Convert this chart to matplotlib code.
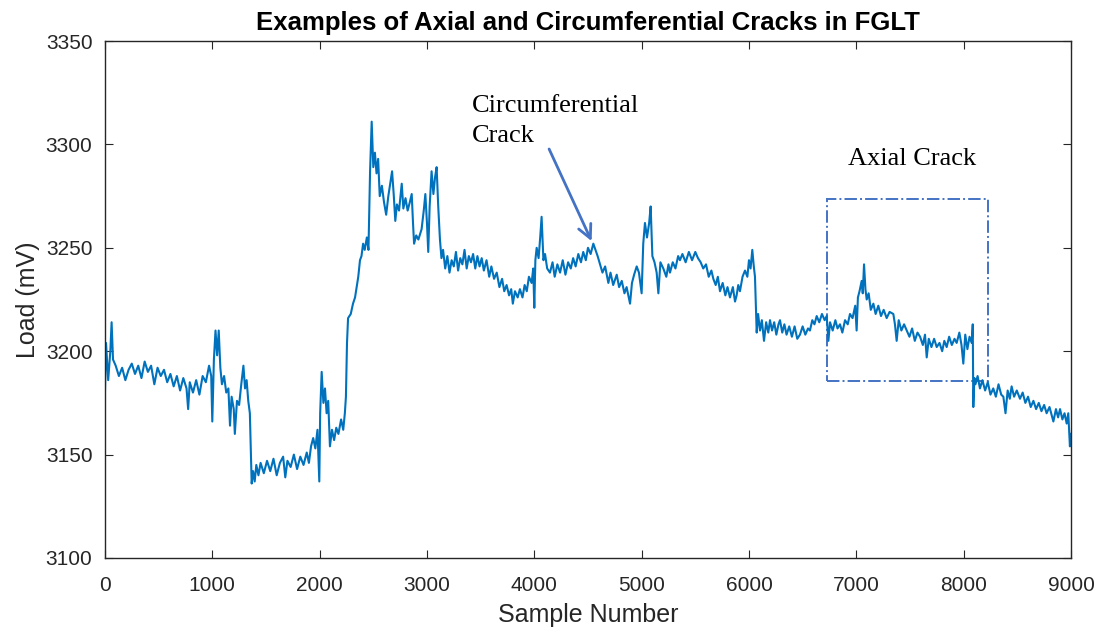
import matplotlib.pyplot as plt
from matplotlib.patches import Rectangle

# load trace, (sample, mV) pairs
samples = [
    0, 10, 30, 50, 62, 75, 100, 130, 160, 190, 220, 250, 280, 310, 340, 370, 400, 430, 460, 490,
    520, 550, 580, 610, 640, 670, 700, 730, 760, 775, 790, 820, 850, 880, 910, 940, 970, 990, 1000, 1015,
    1030, 1045, 1060, 1075, 1090,
    1110, 1130, 1150, 1165, 1180, 1200, 1210, 1230, 1250, 1270, 1290, 1305, 1320, 1335, 1350, 1367, 1380, 1395, 1410, 1430,
    1450, 1480, 1510, 1540, 1570, 1600, 1630, 1660, 1680, 1700, 1730, 1760, 1790, 1820, 1850, 1880, 1900, 1920, 1940, 1960,
    1980, 1997, 2005, 2019, 2035, 2050, 2065, 2080,
    2096, 2115, 2135, 2155, 2175, 2200, 2220, 2235, 2245, 2255, 2265, 2290, 2311, 2330, 2345, 2360, 2376, 2390, 2405, 2420,
    2440, 2455, 2470, 2485, 2500, 2515, 2530, 2545, 2560, 2580, 2600, 2620, 2640, 2660, 2675, 2690, 2705, 2720, 2740, 2765,
    2780, 2800, 2820, 2840, 2858, 2870, 2880, 2900, 2920, 2950, 2970, 2985, 3000, 3012, 3025, 3043, 3060, 3075, 3090, 3105,
    3121, 3135,
    3150, 3170, 3190, 3210, 3230, 3250, 3270, 3290, 3310, 3330, 3350, 3370, 3390, 3410, 3430, 3450, 3470, 3490, 3510, 3530,
    3555, 3580, 3600, 3625, 3650, 3675, 3700, 3720, 3742, 3765, 3785, 3800, 3820, 3845, 3866, 3890, 3910, 3930, 3950, 3975,
    3990, 4000, 4010, 4022, 4040, 4055, 4068, 4085,
    4100, 4120, 4146, 4170, 4190, 4215, 4240, 4265, 4290, 4315, 4340, 4362, 4385, 4410, 4435, 4456, 4480, 4500, 4525, 4550,
    4570, 4590, 4612, 4635, 4660, 4690, 4710, 4735, 4768, 4790, 4815, 4840, 4860, 4880, 4892, 4910, 4930, 4954, 4975, 5000,
    5015, 5031, 5050, 5070, 5084, 5100,
    5120, 5140, 5156, 5175, 5202, 5230, 5250, 5264, 5290, 5315, 5340, 5357, 5380, 5410, 5440, 5470, 5500, 5525, 5550, 5574,
    5600, 5625, 5650, 5668, 5690, 5710, 5730, 5755, 5780, 5800, 5823, 5850, 5870, 5885, 5900, 5916, 5940, 5963, 5985, 6000,
    6015, 6031, 6045, 6056,
    6072, 6085, 6103, 6120, 6140, 6160, 6180, 6196, 6215, 6235, 6255, 6275, 6289, 6310, 6330, 6350, 6375, 6400, 6425, 6450,
    6475, 6500, 6525, 6550, 6568, 6590, 6610, 6631, 6655, 6680, 6705, 6724, 6740, 6755, 6780, 6805, 6825, 6848, 6870, 6895,
    6920, 6941, 6965, 6990, 7003, 7015, 7030, 7050, 7060, 7072, 7085,
    7097, 7115, 7135, 7159, 7180, 7205, 7230, 7255, 7283, 7310, 7345, 7360, 7376, 7395, 7420, 7445, 7470, 7495, 7520, 7545,
    7570, 7594, 7620, 7640, 7656, 7675, 7700, 7725, 7749, 7775, 7800, 7820, 7842, 7865, 7890, 7915, 7935, 7960, 7980, 7997,
    8015, 8035, 8055, 8075, 8085,
    8090, 8100, 8110, 8130, 8152, 8175, 8200, 8225, 8250, 8276, 8300, 8325, 8350, 8370, 8390, 8410, 8430, 8447, 8470, 8495,
    8525, 8550, 8575, 8600, 8625, 8650, 8675, 8700, 8725, 8750, 8773, 8800, 8820, 8836, 8860, 8880, 8898, 8920, 8940, 8960,
    8975, 8990, 9000,
]
load_mv = [
    3180, 3204, 3186, 3200, 3214, 3196, 3193, 3188, 3192, 3186, 3191, 3194, 3189, 3193, 3187, 3195, 3190, 3193, 3184, 3192,
    3188, 3191, 3185, 3189, 3183, 3188, 3181, 3187, 3182, 3172, 3185, 3180, 3186, 3179, 3188, 3185, 3193, 3188, 3166, 3196,
    3210, 3198, 3210, 3192, 3184,
    3188, 3180, 3182, 3164, 3178, 3172, 3160, 3176, 3174, 3184, 3193, 3182, 3186, 3176, 3170, 3136, 3142, 3137, 3145, 3140,
    3146, 3141, 3147, 3142, 3148, 3140, 3146, 3149, 3139, 3147, 3144, 3150, 3143, 3149, 3145, 3151, 3146, 3154, 3158, 3153,
    3162, 3137, 3170, 3190, 3175, 3182, 3170, 3176,
    3154, 3162, 3157, 3163, 3160, 3167, 3162, 3170, 3178, 3204, 3216, 3218, 3223, 3226, 3231, 3236, 3244, 3246, 3252, 3249,
    3255, 3249, 3287, 3311, 3289, 3296, 3286, 3293, 3275, 3280, 3272, 3266, 3275, 3282, 3287, 3276, 3263, 3271, 3268, 3281,
    3269, 3274, 3268, 3272, 3276, 3262, 3252, 3256, 3254, 3259, 3268, 3276, 3262, 3248, 3270, 3287, 3276, 3284, 3289, 3270,
    3254, 3245,
    3249, 3240, 3246, 3238, 3244, 3241, 3248, 3239, 3245, 3242, 3249, 3240, 3246, 3243, 3247, 3240, 3246, 3241, 3245, 3239,
    3244, 3236, 3241, 3235, 3238, 3231, 3235, 3229, 3232, 3227, 3230, 3223, 3229, 3226, 3230, 3226, 3232, 3229, 3236, 3233,
    3240, 3221, 3244, 3250, 3245, 3255, 3265, 3244,
    3247, 3240, 3238, 3243, 3236, 3242, 3238, 3244, 3237, 3243, 3240, 3245, 3241, 3247, 3243, 3248, 3244, 3250, 3247, 3252,
    3249, 3246, 3242, 3238, 3241, 3233, 3238, 3232, 3237, 3231, 3234, 3228, 3231, 3226, 3223, 3233, 3237, 3241, 3238, 3228,
    3252, 3262, 3255, 3262, 3270, 3246,
    3243, 3238, 3228, 3243, 3240, 3236, 3242, 3238, 3243, 3240, 3246, 3244, 3247, 3243, 3248, 3244, 3248, 3245, 3243, 3240,
    3242, 3236, 3239, 3235, 3232, 3236, 3229, 3233, 3227, 3231, 3226, 3231, 3224, 3227, 3232, 3229, 3236, 3239, 3236, 3244,
    3240, 3249, 3241, 3236,
    3209, 3218, 3210, 3215, 3205, 3214, 3209, 3215, 3210, 3214, 3208, 3213, 3215, 3209, 3213, 3208, 3212, 3207, 3212, 3206,
    3208, 3212, 3208, 3211, 3210, 3215, 3213, 3217, 3214, 3218, 3215, 3217, 3205, 3214, 3210, 3215, 3211, 3213, 3209, 3215,
    3213, 3218, 3216, 3222, 3210, 3226, 3229, 3234, 3228, 3242, 3230,
    3225, 3228, 3220, 3223, 3218, 3222, 3217, 3220, 3216, 3219, 3218, 3213, 3205, 3215, 3210, 3213, 3210, 3207, 3211, 3205,
    3209, 3207, 3203, 3208, 3197, 3206, 3202, 3206, 3202, 3204, 3200, 3205, 3202, 3207, 3203, 3206, 3204, 3209, 3203, 3194,
    3208, 3201, 3207, 3204, 3213,
    3173, 3187, 3184, 3188, 3182, 3186, 3181, 3185, 3179, 3182, 3178, 3184, 3179, 3178, 3170, 3181, 3177, 3183, 3178, 3181,
    3177, 3180, 3175, 3178, 3173, 3176, 3172, 3175, 3171, 3174, 3170, 3173, 3169, 3166, 3172, 3168, 3172, 3167, 3170, 3165,
    3170, 3154, 3160,
]

x_ticks = [0, 1000, 2000, 3000, 4000, 5000, 6000, 7000, 8000, 9000]
y_ticks = [3100, 3150, 3200, 3250, 3300, 3350]

# annotation anchors in data units
circ_line1_xy = (3420, 3315.5)
circ_line2_xy = (3420, 3301)
circ_arrow_tail = (4127, 3299)
circ_arrow_head = (4545, 3252)
axial_text_xy = (7520, 3290)
axial_box = (6727, 3185.5, 1500, 88)  # x0, y0, width, height

axis_gray = '#262626'
fig = plt.figure(figsize=(10.99, 6.31), dpi=100)
ax = fig.add_axes([0.0955, 0.1157, 0.879, 0.8193])

ax.plot(samples, load_mv, color='#0072BD', lw=1.5)

ax.set_xlim(0, 9000)
ax.set_ylim(3100, 3350)
ax.set_xticks(x_ticks)
ax.set_yticks(y_ticks)
ax.tick_params(direction='in', length=6, width=0.8, top=True, right=True,
               labelsize=15, colors=axis_gray)
ax.tick_params(axis='x', pad=13)
ax.tick_params(axis='y', pad=9)
for lab in ax.get_xticklabels() + ax.get_yticklabels():
    lab.set_family('Liberation Sans')
for sp in ax.spines.values():
    sp.set_color(axis_gray)
    sp.set_linewidth(1.0)

ax.set_xlabel('Sample Number', fontsize=18, family='Liberation Sans', color=axis_gray, labelpad=6)
ax.set_ylabel('Load (mV)', fontsize=18, family='Liberation Sans', color=axis_gray, labelpad=4)
ax.set_title('Examples of Axial and Circumferential Cracks in FGLT', fontsize=18.5,
             family='Liberation Sans', fontweight='bold', color='black', pad=8)

# annotations
ax.text(*circ_line1_xy, 'Circumferential', fontsize=19,
        family='Liberation Serif', va='baseline', ha='left')
ax.text(*circ_line2_xy, 'Crack', fontsize=19,
        family='Liberation Serif', va='baseline', ha='left')
ax.annotate('', xy=circ_arrow_head, xytext=circ_arrow_tail,
            arrowprops=dict(arrowstyle='->', color='#4472C4', lw=2, mutation_scale=24))
ax.text(*axial_text_xy, 'Axial Crack', fontsize=19,
        family='Liberation Serif', va='baseline', ha='center')
ax.add_patch(Rectangle(axial_box[:2], axial_box[2], axial_box[3], fill=False,
                       edgecolor='#4472C4', lw=1.4, linestyle='-.'))

fig.savefig('out.png', dpi=100)
